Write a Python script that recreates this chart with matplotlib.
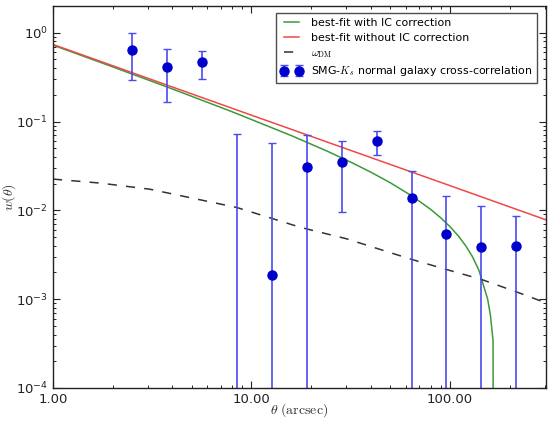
import matplotlib
matplotlib.use('Agg')
import matplotlib.pyplot as plt
from matplotlib.ticker import FormatStrFormatter, LogLocator
import numpy as np

# measured cross-correlation points
theta = [2.5, 3.75, 5.63, 8.44, 12.66, 18.98, 28.48, 42.71, 64.07, 96.11, 144.17, 216.25]
w_obs = [0.647, 0.413, 0.466, 1e-5, 0.00186, 0.0304, 0.035, 0.0598, 0.0137, 0.00543, 0.0039, 0.0040]
w_top = [1.0, 0.66, 0.62, 0.0724, 0.0573, 0.0711, 0.0598, 0.0789, 0.0274, 0.0147, 0.01115, 0.00874]
w_bot = [0.297, 0.168, 0.303, 0.0, 0.0, 0.0, 0.00955, 0.0415, 0.0, 0.0, 0.0, 0.0]

# best-fit without IC correction
theta_fit = [1.0, 10.0, 100.0, 305.0]
w_fit = [0.738, 0.118, 0.0190, 0.00782]

# best-fit with IC correction
theta_ic = [1.0, 2.0, 4.0, 8.0, 16.0, 24.0, 32.0, 40.0, 50.0, 64.0, 80.0, 90.0,
            100.0, 110.0, 120.0, 130.0, 140.0, 155.0, 160.0, 165.0, 166.0]
w_ic = [0.7256, 0.4129, 0.2327, 0.1289, 0.0690, 0.0466, 0.0345, 0.0269, 0.0205,
        0.01465, 0.01026, 0.00823, 0.00657, 0.00519, 0.00401, 0.0030, 0.00212,
        0.00100, 0.00066, 0.00034, 1e-7]

# dark matter correlation
theta_dm = [1.0, 1.725, 3.08, 8.44, 12.66, 17.55, 30.0, 64.0, 96.0, 144.0, 216.0, 304.0]
w_dm = [0.0225, 0.0203, 0.0173, 0.01077, 0.00813, 0.00646, 0.0048, 0.00281,
        0.00216, 0.00167, 0.00121, 0.00091]

plt.rcParams['font.family'] = ['DejaVu Sans']
plt.rcParams['xtick.direction'] = 'in'
plt.rcParams['ytick.direction'] = 'in'
plt.rcParams['xtick.top'] = True
plt.rcParams['ytick.right'] = True

fig = plt.figure(figsize=(5.55, 4.3), dpi=100)
ax = fig.add_axes([0.0955, 0.0977, 0.8883, 0.8883])

w_obs = np.array(w_obs)
yerr = [w_obs - np.array(w_bot), np.array(w_top) - w_obs]

l1, = ax.plot(theta_ic, w_ic, color='#3a9a3a', lw=1.1, label='best-fit with IC correction')
l2, = ax.plot(theta_fit, w_fit, color='#f04848', lw=1.1, label='best-fit without IC correction')
l3, = ax.plot(theta_dm, w_dm, color='#333333', lw=1.1, ls='--', dashes=(6, 6),
              label=r'$\omega_{\rm DM}$')
eb = ax.errorbar(theta, w_obs, yerr=yerr, fmt='o', color='#0000cc', ms=6.5,
                 ecolor='#4a4aee', elinewidth=1.2, capsize=3, capthick=1,
                 label=r'SMG-$K_s$ normal galaxy cross-correlation')

ax.set_xscale('log')
ax.set_yscale('log', nonpositive='clip')
ax.set_xlim(1, 305)
ax.set_ylim(1e-4, 2.0)
ax.xaxis.set_major_formatter(FormatStrFormatter('%.2f'))
ax.yaxis.set_major_locator(LogLocator(base=10, numticks=10))
ax.tick_params(which='major', length=5, width=0.8, labelsize=9.5, colors='#222222')
ax.tick_params(which='minor', length=2.5, width=0.6)
for sp in ax.spines.values():
    sp.set_linewidth(1.0)
    sp.set_color('#222222')

ax.set_xlabel(r'$\theta\ \mathrm{(arcsec)}$', fontsize=10, math_fontfamily='cm',
              color='#333333')
ax.set_ylabel(r'$w(\theta)$', fontsize=10, math_fontfamily='cm', color='#333333')
ax.xaxis.set_label_coords(0.5, -0.035)
ax.yaxis.set_label_coords(-0.072, 0.5)

leg = ax.legend(handles=[l1, l2, l3, eb], loc='upper right', fontsize=7.9,
                numpoints=2, handlelength=2.0, frameon=True, fancybox=False,
                borderpad=0.4, labelspacing=0.45, handletextpad=0.8,
                bbox_to_anchor=(0.993, 0.995))
leg.get_frame().set_edgecolor('#222222')
leg.get_frame().set_linewidth(1.0)
for t in leg.get_texts():
    t.set_math_fontfamily('cm')

fig.savefig('out.png', dpi=100, facecolor='white')
